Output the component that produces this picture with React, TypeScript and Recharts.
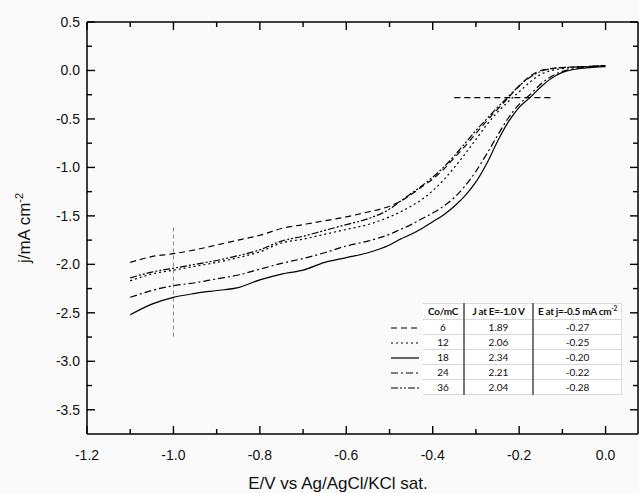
import React from 'react'
import { LineChart, Line, XAxis, YAxis, ReferenceLine } from 'recharts'

// potential axis (V vs Ag/AgCl)
const potential = [
  -1.1, -1.05, -1.0, -0.95, -0.9, -0.85, -0.8, -0.75, -0.7, -0.65, -0.6, -0.55, -0.5,
  -0.475, -0.45, -0.425, -0.4, -0.375, -0.35, -0.325, -0.3, -0.275, -0.25, -0.225, -0.2,
  -0.175, -0.15, -0.125, -0.1, -0.075, -0.05, -0.025, 0,
]

// current density, mA cm-2, one list per deposition charge
const j6 = [
  -1.98, -1.92, -1.89, -1.85, -1.8, -1.75, -1.7, -1.63, -1.59, -1.55, -1.51, -1.46, -1.4,
  -1.35, -1.28, -1.2, -1.12, -1.02, -0.9, -0.78, -0.65, -0.52, -0.4, -0.28, -0.16,
  -0.06, 0.0, 0.02, 0.03, 0.035, 0.04, 0.045, 0.05,
]
const j12 = [
  -2.17, -2.1, -2.06, -2.02, -1.98, -1.93, -1.87, -1.78, -1.74, -1.69, -1.64, -1.59, -1.51,
  -1.46, -1.4, -1.33, -1.24, -1.13, -1.0, -0.86, -0.71, -0.56, -0.43, -0.32, -0.22,
  -0.12, -0.04, 0.0, 0.02, 0.03, 0.035, 0.04, 0.05,
]
const j18 = [
  -2.52, -2.41, -2.34, -2.3, -2.27, -2.24, -2.16, -2.1, -2.06, -1.98, -1.93, -1.88, -1.8,
  -1.74, -1.69, -1.63, -1.56, -1.49, -1.4, -1.29, -1.15, -0.96, -0.73, -0.53, -0.38,
  -0.28, -0.17, -0.08, -0.02, 0.01, 0.025, 0.035, 0.04,
]
const j24 = [
  -2.34, -2.27, -2.22, -2.19, -2.15, -2.11, -2.05, -1.99, -1.94, -1.88, -1.81, -1.76, -1.69,
  -1.64, -1.59, -1.53, -1.47, -1.4, -1.31, -1.19, -1.04, -0.86, -0.67, -0.49, -0.35,
  -0.25, -0.14, -0.06, -0.01, 0.015, 0.03, 0.04, 0.045,
]
const j36 = [
  -2.14, -2.08, -2.04, -2.0, -1.96, -1.91, -1.85, -1.76, -1.71, -1.65, -1.59, -1.53, -1.43,
  -1.35, -1.27, -1.19, -1.1, -1.0, -0.88, -0.75, -0.62, -0.5, -0.38, -0.27, -0.16,
  -0.07, -0.01, 0.02, 0.03, 0.035, 0.04, 0.045, 0.05,
]

const xTicks = [-1.2, -1.1, -1.0, -0.9, -0.8, -0.7, -0.6, -0.5, -0.4, -0.3, -0.2, -0.1, 0.0]
const yTicks = [0.5, 0.25, 0, -0.25, -0.5, -0.75, -1.0, -1.25, -1.5, -1.75, -2.0, -2.25, -2.5, -2.75, -3.0, -3.25, -3.5]

// guide lines drawn on the plot
const hGuide = [{ x: -0.35, y: -0.28 }, { x: -0.12, y: -0.28 }]
const vGuide = [{ x: -1.0, y: -1.62 }, { x: -1.0, y: -2.75 }]

// table beside the legend
const charges = ['6', '12', '18', '24', '36']
const jAtMinus1 = ['1.89', '2.06', '2.34', '2.21', '2.04']
const eAtHalf = ['-0.27', '-0.25', '-0.20', '-0.22', '-0.28']
const dashes = ['6 4', '2 3', '', '7 3 2 3', '7 2 2 2 2 2']

const data = potential.map((e, i) => ({ e, j6: j6[i], j12: j12[i], j18: j18[i], j24: j24[i], j36: j36[i] }))

const W = 639
const H = 493
const LEFT = 87
const TOP = 22
const RIGHT = 638
const BOTTOM = 434
const FONT = '"Liberation Sans", Arial, sans-serif'

const isMult = (v: number, step: number) => Math.abs(v / step - Math.round(v / step)) < 1e-6
const fmt = (v: number) => (Math.abs(v) < 1e-9 ? '0.0' : v.toFixed(1))

function BottomTick(props: any) {
  const { x, payload } = props
  const major = isMult(payload.value, 0.2)
  return (
    <g>
      <line x1={x} x2={x} y1={BOTTOM} y2={BOTTOM - (major ? 8 : 5)} stroke="#000" strokeWidth={1.4} />
      {major && (
        <text x={x} y={BOTTOM + 26} textAnchor="middle" fontSize={14} fontFamily={FONT} fill="#111">
          {fmt(payload.value)}
        </text>
      )}
    </g>
  )
}

function TopTick(props: any) {
  const { x, payload } = props
  const major = isMult(payload.value, 0.2)
  return <line x1={x} x2={x} y1={TOP} y2={TOP + (major ? 8 : 5)} stroke="#000" strokeWidth={1.4} />
}

function LeftTick(props: any) {
  const { y, payload } = props
  const major = isMult(payload.value, 0.5)
  return (
    <g>
      <line x1={LEFT} x2={LEFT + (major ? 8 : 5)} y1={y} y2={y} stroke="#000" strokeWidth={1.4} />
      {major && (
        <text x={LEFT - 7} y={y + 5} textAnchor="end" fontSize={14} fontFamily={FONT} fill="#111">
          {fmt(payload.value)}
        </text>
      )}
    </g>
  )
}

function RightTick(props: any) {
  const { y, payload } = props
  const major = isMult(payload.value, 0.5)
  return <line x1={RIGHT} x2={RIGHT - (major ? 8 : 5)} y1={y} y2={y} stroke="#000" strokeWidth={1.4} />
}

function Sample({ dash }: { dash: string }) {
  return (
    <svg width={30} height={10} style={{ display: 'block' }}>
      <line x1={1} x2={29} y1={6} y2={6} stroke="#000" strokeWidth={1.2} strokeDasharray={dash || undefined} />
    </svg>
  )
}

function InfoTable() {
  const cell: React.CSSProperties = {
    borderBottom: '1px solid #d8d8d8',
    height: 14,
    padding: 0,
    textAlign: 'center',
    whiteSpace: 'nowrap',
    background: '#fff',
  }
  const head: React.CSSProperties = { ...cell, fontWeight: 700, borderTop: '1px solid #ddd', letterSpacing: -0.3, height: 15 }
  return (
    <table
      style={{
        position: 'absolute',
        left: 390,
        top: 303,
        borderCollapse: 'collapse',
        fontFamily: 'Lato, "Open Sans", sans-serif',
        fontSize: 10,
        color: '#111',
        lineHeight: '13px',
        tableLayout: 'fixed',
      }}
    >
      <tbody>
        <tr>
          <td style={{ width: 33, padding: 0 }} />
          <td style={{ ...head, width: 40 }}>Co/mC</td>
          <td style={{ ...head, width: 67, borderLeft: '2px solid #777' }}>J at E=-1.0 V</td>
          <td style={{ ...head, width: 87, borderLeft: '2px solid #777', borderRight: '1px solid #ddd' }}>
            E at j=-0.5 mA cm<sup style={{ fontSize: 6.5, verticalAlign: 'top', lineHeight: '7px' }}>-2</sup>
          </td>
        </tr>
        {charges.map((c, i) => (
          <tr key={c}>
            <td style={{ padding: 0 }}>
              <Sample dash={dashes[i]} />
            </td>
            <td style={cell}>{c}</td>
            <td style={{ ...cell, borderLeft: '2px solid #777' }}>{jAtMinus1[i]}</td>
            <td style={{ ...cell, borderLeft: '2px solid #777', borderRight: '1px solid #ddd' }}>{eAtHalf[i]}</td>
          </tr>
        ))}
      </tbody>
    </table>
  )
}

export default function App() {
  return (
    <div style={{ position: 'absolute', left: 0, top: 0, width: W, height: H, background: '#fafafa', overflow: 'hidden' }}>
      <LineChart width={W} height={H} data={data} margin={{ top: TOP - 1, right: W - RIGHT - 1, left: 0, bottom: 0 }}>
        <XAxis
          xAxisId="b"
          dataKey="e"
          type="number"
          domain={[-1.2, 0.075]}
          ticks={xTicks}
          interval={0}
          height={H - BOTTOM}
          tick={BottomTick}
          tickLine={false}
          axisLine={{ stroke: '#000', strokeWidth: 1.5 }}
          allowDataOverflow
        />
        <XAxis
          xAxisId="t"
          orientation="top"
          dataKey="e"
          type="number"
          domain={[-1.2, 0.075]}
          ticks={xTicks}
          interval={0}
          height={1}
          tick={TopTick}
          tickLine={false}
          axisLine={{ stroke: '#000', strokeWidth: 1.5 }}
          allowDataOverflow
        />
        <YAxis
          yAxisId="l"
          type="number"
          domain={[-3.75, 0.5]}
          ticks={yTicks}
          interval={0}
          width={LEFT}
          tick={LeftTick}
          tickLine={false}
          axisLine={{ stroke: '#000', strokeWidth: 1.5 }}
          allowDataOverflow
        />
        <YAxis
          yAxisId="r"
          orientation="right"
          type="number"
          domain={[-3.75, 0.5]}
          ticks={yTicks}
          interval={0}
          width={1}
          tick={RightTick}
          tickLine={false}
          axisLine={{ stroke: '#000', strokeWidth: 1.5 }}
          allowDataOverflow
        />
        <ReferenceLine xAxisId="b" yAxisId="l" segment={vGuide} stroke="#888" strokeDasharray="4 3" strokeWidth={1} />
        <ReferenceLine xAxisId="b" yAxisId="l" segment={hGuide} stroke="#000" strokeDasharray="6 4" strokeWidth={1.2} />
        <Line xAxisId="b" yAxisId="l" dataKey="j6" type="monotone" stroke="#000" strokeWidth={1.2} strokeDasharray="6 4" dot={false} isAnimationActive={false} />
        <Line xAxisId="b" yAxisId="l" dataKey="j12" type="monotone" stroke="#000" strokeWidth={1.2} strokeDasharray="2 3" dot={false} isAnimationActive={false} />
        <Line xAxisId="b" yAxisId="l" dataKey="j18" type="monotone" stroke="#000" strokeWidth={1.2} dot={false} isAnimationActive={false} />
        <Line xAxisId="b" yAxisId="l" dataKey="j24" type="monotone" stroke="#000" strokeWidth={1.2} strokeDasharray="7 3 2 3" dot={false} isAnimationActive={false} />
        <Line xAxisId="b" yAxisId="l" dataKey="j36" type="monotone" stroke="#000" strokeWidth={1.2} strokeDasharray="7 2 2 2 2 2" dot={false} isAnimationActive={false} />
      </LineChart>
      <div style={{ position: 'absolute', left: 0, top: 0, width: W, height: H, pointerEvents: 'none' }}>
        <svg width={W} height={H} style={{ position: 'absolute', left: 0, top: 0 }}>
          <text x={338} y={489} textAnchor="middle" fontSize={17} fontFamily={FONT} fill="#111">
            E/V vs Ag/AgCl/KCl sat.
          </text>
          <text transform="translate(30 228) rotate(-90)" textAnchor="middle" fontSize={17} fontFamily={FONT} fill="#111">
            j/mA cm<tspan dy={-7} fontSize={11}>-2</tspan>
          </text>
        </svg>
        <InfoTable />
      </div>
    </div>
  )
}
